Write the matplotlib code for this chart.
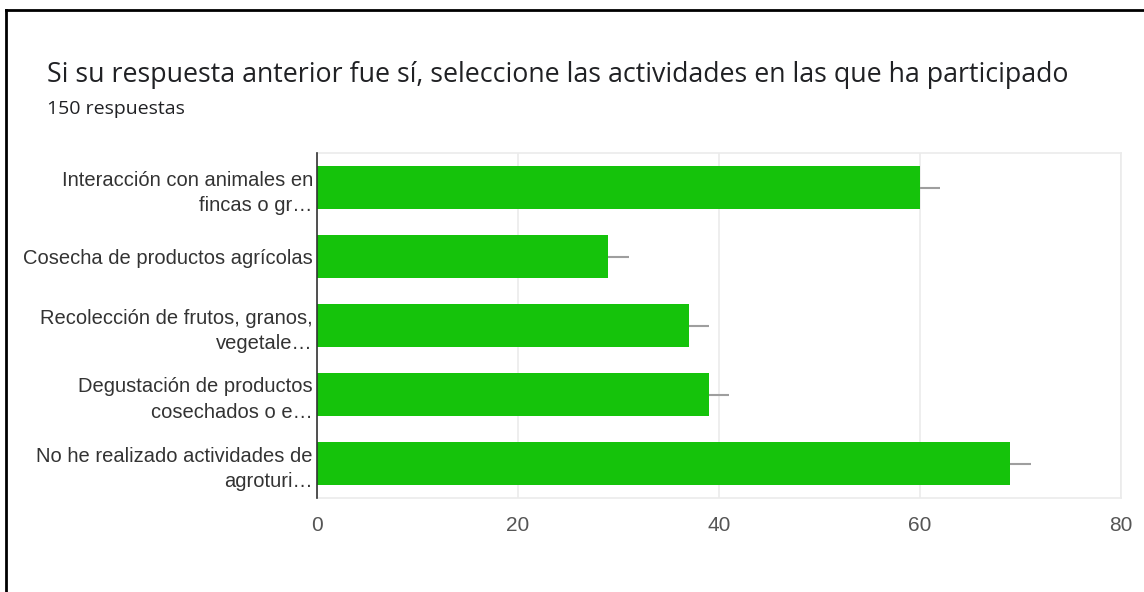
import numpy as np
import matplotlib
matplotlib.use("Agg")
import matplotlib.pyplot as plt

plt.rcParams['font.family'] = ['Liberation Sans', 'DejaVu Sans']

categories = [
    "Interacción con animales en\nfincas o gr…",
    "Cosecha de productos agrícolas",
    "Recolección de frutos, granos,\nvegetale…",
    "Degustación de productos\ncosechados o e…",
    "No he realizado actividades de\nagroturi…",
]
counts = [60, 29, 37, 39, 69]
xticks = [0, 20, 40, 60, 80]

title = "Si su respuesta anterior fue sí, seleccione las actividades en las que ha participado"
subtitle = "150 respuestas"

fig = plt.figure(figsize=(11.44, 5.92), dpi=100)

# outer card border (left and top edges visible)
fig.add_artist(plt.Line2D([6 / 1144, 6 / 1144], [0, 1 - 10 / 592], color='black', lw=2))
fig.add_artist(plt.Line2D([6 / 1144, 1], [1 - 10 / 592, 1 - 10 / 592], color='black', lw=2))

fig.text(47 / 1144, 1 - 75 / 592, title, fontsize=19.3, color='#202124', va='center', ha='left',
         family=['Open Sans', 'DejaVu Sans'])
fig.text(47 / 1144, 1 - 109 / 592, subtitle, fontsize=14, color='#202124', va='center', ha='left',
         family=['Open Sans', 'DejaVu Sans'])

ax = fig.add_axes([317 / 1144, 1 - 498 / 592, (1121 - 317) / 1144, (498 - 153) / 592])

y = np.arange(len(categories))
ax.barh(y, counts, height=0.61, color='#15c30b', zorder=3)
# small leader ticks past the bar ends
ax.hlines(y, counts, np.array(counts) + 2, color='#9e9e9e', lw=1.5, zorder=3)

ax.set_ylim(len(categories) - 0.5, -0.5)
ax.set_xlim(0, 80)
ax.set_xticks(xticks)
ax.set_yticks(y)
ax.set_yticklabels(categories, fontsize=14.5, color='#333333', linespacing=1.42)
ax.tick_params(axis='x', labelsize=15, labelcolor='#555555', length=0, pad=13)
ax.tick_params(axis='y', length=0, pad=3)

ax.grid(axis='x', color='#ebebeb', lw=1.2, zorder=0)
for side in ['top', 'right', 'bottom']:
    ax.spines[side].set_color('#ebebeb')
    ax.spines[side].set_linewidth(1.2)
ax.spines['left'].set_color('#333333')
ax.spines['left'].set_linewidth(1.2)
ax.spines['left'].set_zorder(4)

fig.savefig('out.png', dpi=100)
